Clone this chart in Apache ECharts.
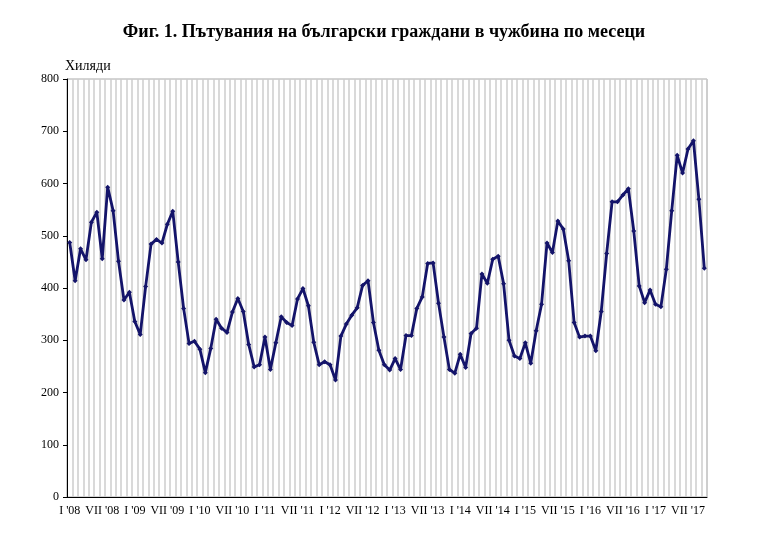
<!DOCTYPE html>
<html>
<head>
<meta charset="utf-8">
<script src="https://cdn.jsdelivr.net/npm/echarts@6/dist/echarts.min.js"></script>
<style>
html,body{margin:0;padding:0;background:#fff;}
#chart{width:768px;height:540px;}
</style>
</head>
<body>
<div id="chart"></div>
<script>
// Monthly categories Jan 2008 .. Oct 2017
const years = ["08","09","10","11","12","13","14","15","16","17"];
const monthNames = ["I","II","III","IV","V","VI","VII","VIII","IX","X","XI","XII"];
const lastYearMonths = 10;

// Values, thousands
const values2008 = [487,414,475,454,526,545,456,593,548,451,377,392];
const values2009 = [336,311,403,484,493,486,522,547,450,361,294,298];
const values2010 = [283,238,284,340,323,315,354,380,355,292,249,253];
const values2011 = [306,244,295,345,334,328,379,399,366,296,253,259];
const values2012 = [253,224,308,331,348,362,405,414,334,281,253,243];
const values2013 = [265,244,309,309,361,383,447,448,371,306,244,237];
const values2014 = [273,248,313,323,427,409,455,461,408,300,270,265];
const values2015 = [295,256,318,369,486,468,528,513,452,334,306,308];
const values2016 = [308,280,355,466,565,565,578,590,509,404,372,396];
const values2017 = [369,364,436,548,654,620,666,682,570,438];

// Tick labels (shown at January and July)
const tickMonths = ["I","VII"];
const yTicks = [0,100,200,300,400,500,600,700,800];

const categories = [];
years.forEach((y, yi) => {
  const n = yi === years.length - 1 ? lastYearMonths : 12;
  for (let m = 0; m < n; m++) categories.push(monthNames[m] + " '" + y);
});
const values = [].concat(values2008, values2009, values2010, values2011, values2012,
  values2013, values2014, values2015, values2016, values2017);

const chart = echarts.init(document.getElementById('chart'), null, {renderer: 'canvas'});
const serif = '"Liberation Serif", "DejaVu Serif", serif';
chart.setOption({
  animation: false,
  backgroundColor: '#ffffff',
  title: {
    text: 'Фиг. 1. Пътувания на български граждани в чужбина по месеци',
    left: 'center',
    top: 18,
    textStyle: {fontFamily: serif, fontSize: 18, fontWeight: 'bold', color: '#000'}
  },
  grid: {left: 67, right: 61, top: 79, bottom: 43, show: true, borderColor: '#a8a8a8', borderWidth: 1},
  xAxis: {
    type: 'category',
    data: categories,
    boundaryGap: true,
    axisLine: {lineStyle: {color: '#000', width: 1}},
    axisTick: {show: false},
    splitLine: {show: true, interval: 0, lineStyle: {color: '#cdcdcd', width: 1.5}},
    axisLabel: {
      interval: 0,
      fontFamily: serif, fontSize: 12, color: '#000', margin: 8,
      formatter: function (val) {
        const m = val.split(' ')[0];
        return tickMonths.indexOf(m) >= 0 ? val : '';
      }
    }
  },
  yAxis: {
    type: 'value',
    min: yTicks[0], max: yTicks[yTicks.length - 1], interval: 100,
    name: 'Хиляди',
    nameLocation: 'end',
    nameGap: 6,
    nameTextStyle: {fontFamily: serif, fontSize: 14, color: '#000', align: 'left', padding: [0,0,0,-2]},
    axisLine: {show: true, lineStyle: {color: '#000', width: 1}},
    axisTick: {show: true, length: 4, lineStyle: {color: '#000'}},
    splitLine: {show: false},
    axisLabel: {fontFamily: serif, fontSize: 12, color: '#000', margin: 8}
  },
  series: [{
    type: 'line',
    data: values,
    symbol: 'diamond',
    symbolSize: 5,
    showAllSymbol: true,
    lineStyle: {color: '#14146a', width: 2.8},
    itemStyle: {color: '#14146a'}
  }]
});
</script>
</body>
</html>
